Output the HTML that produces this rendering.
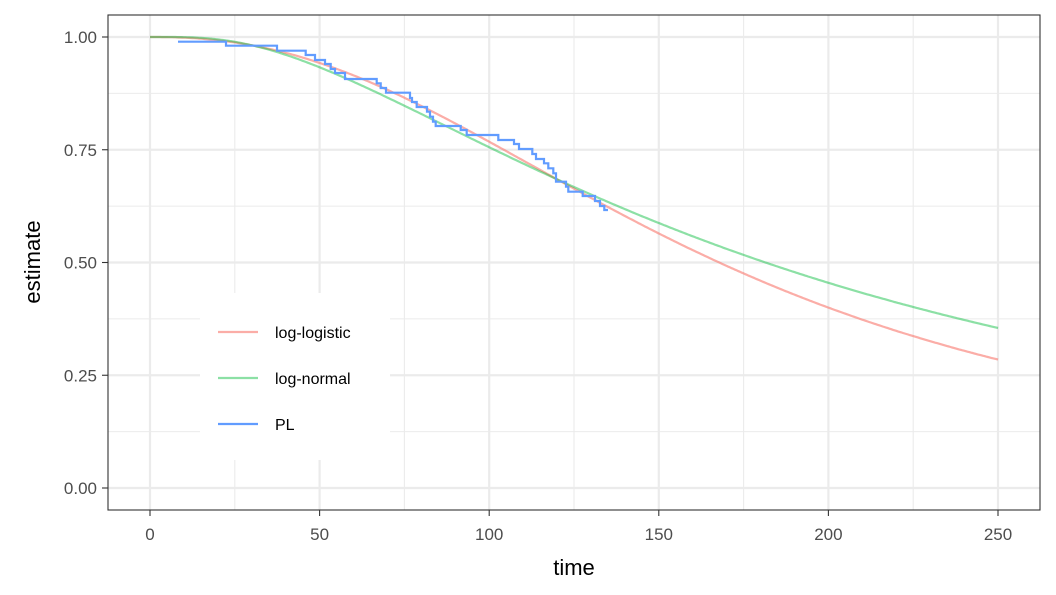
<!DOCTYPE html>
<html><head><style>body{margin:0;background:#fff}svg{display:block}text{font-family:"Liberation Sans",Arial,sans-serif}</style></head>
<body>
<svg id="s" width="1056" height="595" xmlns="http://www.w3.org/2000/svg"></svg>
<script>
const s=document.getElementById('s');
const X=t=>150+t*3.392, Y=v=>488-v*451;
let h='<rect width="1056" height="595" fill="#fff"/>';
// minor grid
for(let t=25;t<=275;t+=50){const x=X(t);if(x<1040)h+=`<line x1="${x}" x2="${x}" y1="15" y2="510" stroke="#ebebeb" stroke-width="1.1"/>`;}
for(let v=0.125;v<1.1;v+=0.25)h+=`<line x1="108" x2="1040" y1="${Y(v)}" y2="${Y(v)}" stroke="#ebebeb" stroke-width="1.1"/>`;
for(let t=0;t<=250;t+=50){const x=X(t);h+=`<line x1="${x}" x2="${x}" y1="15" y2="510" stroke="#ebebeb" stroke-width="2.2"/>`;
h+=`<line x1="${x}" x2="${x}" y1="510" y2="516" stroke="#333" stroke-width="1.1"/><text x="${x}" y="540" font-size="17" fill="#4d4d4d" text-anchor="middle">${t}</text>`;}
for(let v=0;v<=1;v+=0.25){const y=Y(v);h+=`<line x1="108" x2="1040" y1="${y}" y2="${y}" stroke="#ebebeb" stroke-width="2.2"/>`;
h+=`<line x1="102" x2="108" y1="${y}" y2="${y}" stroke="#333" stroke-width="1.1"/><text x="97" y="${y+6}" font-size="17" fill="#4d4d4d" text-anchor="end">${v.toFixed(2)}</text>`;}
function erf(x){const sg=x<0?-1:1;x=Math.abs(x);const t=1/(1+0.3275911*x);const y=1-(((((1.061405429*t-1.453152027)*t)+1.421413741)*t-0.284496736)*t+0.254829592)*t*Math.exp(-x*x);return sg*y;}
let ll='',ln='';
for(let i=0;i<=500;i++){const t=i*0.5;const a=t<=0?1:1/(1+Math.pow(t/167.8,2.31));
const b=t<=0?1:1-0.5*(1+erf((Math.log(t)-5.201)/0.861/Math.SQRT2));
ll+=(i?'L':'M')+X(t).toFixed(1)+','+Y(a).toFixed(1);ln+=(i?'L':'M')+X(t).toFixed(1)+','+Y(b).toFixed(1);}
h+=`<path d="${ll}" fill="none" stroke="#F8766D" stroke-opacity="0.6" stroke-width="2.2"/>`;
h+=`<path d="${ln}" fill="none" stroke="#00BA38" stroke-opacity="0.45" stroke-width="2.2"/>`;
const pts=[[178,41.7],[226,45.7],[277,50.7],[305.7,55],[315,60],[325,64],[330.7,69],[335,73],[345,79],[376.7,83.3],[380.7,88],[386,92.7],[410,98],[412,102],[416.7,107],[427,111.7],[430,116.7],[433,121.7],[435.7,126],[460.7,130],[466.7,135],[498.3,140],[514,144],[519,149],[532.3,154],[536,159],[544,163.3],[548.3,168.3],[553.3,173.3],[556,181.7],[566,186.7],[568.3,191.7],[582.7,196],[595,201],[600,206],[604.3,210],[608,210]];
let pl='M'+pts[0][0]+','+pts[0][1];
for(let i=1;i<pts.length;i++){pl+='H'+pts[i][0];if(i<pts.length-1)pl+='V'+pts[i][1];}
h+=`<path d="${pl}" fill="none" stroke="#619CFF" stroke-width="2.2"/>`;
h+=`<rect x="108" y="15" width="932" height="495" fill="none" stroke="#333" stroke-width="1.1"/>`;
// legend
h+=`<rect x="200" y="293" width="190" height="167" fill="#fff"/>`;
const L=[['log-logistic','#F8766D',0.6,332],['log-normal','#00BA38',0.45,378],['PL','#619CFF',1,424]];
for(const [n,c,o,y] of L)h+=`<line x1="218" x2="258" y1="${y}" y2="${y}" stroke="${c}" stroke-opacity="${o}" stroke-width="2.2"/><text x="275" y="${y+6}" font-size="16" fill="#000">${n}</text>`;
h+=`<text x="574" y="575" font-size="22" text-anchor="middle">time</text>`;
h+=`<text transform="translate(40,262) rotate(-90)" font-size="22" text-anchor="middle">estimate</text>`;
s.innerHTML=h;
</script>
</body></html>
